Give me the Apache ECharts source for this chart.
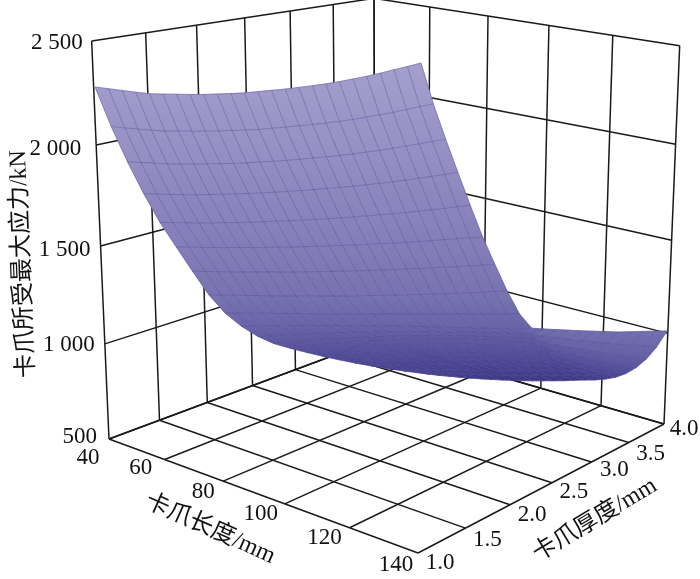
<!DOCTYPE html>
<html><head><meta charset="utf-8"><style>html,body{margin:0;background:#fff}#c{width:700px;height:579px}</style>
<script src="https://cdn.jsdelivr.net/npm/echarts@6/dist/echarts.min.js"></script></head>
<body><div id="c"></div><script>
const lengthTicks=[40,60,80,100,120,140];
const thicknessTicks=[1.0,1.5,2.0,2.5,3.0,3.5,4.0];
const stressTicks=[500,1000,1500,2000,2500];
const stressLabels=['500','1 000','1 500','2 000','2 500'];
const lengths=[40,45,50,55,60,65,70,75,80,85,90,95,100,105,110,115,120,125,130,135,140];
const thicknesses=[1,1.125,1.25,1.375,1.5,1.625,1.75,1.875,2,2.125,2.25,2.375,2.5,2.625,2.75,2.875,3,3.125,3.25,3.375,3.5,3.625,3.75,3.875,4];
const stress=[
[2280,2263,2246,2229,2213,2203,2194,2184,2176,2170,2164,2159,2157,2155,2153,2153,2153,2154,2157,2162,2167,2174,2183,2191,2200],
[2087,2072,2058,2044,2031,2023,2014,2006,1999,1993,1987,1982,1980,1977,1975,1974,1973,1973,1974,1977,1981,1985,1991,1997,2003],
[1915,1904,1892,1881,1871,1863,1856,1849,1842,1837,1832,1828,1825,1822,1820,1818,1817,1816,1817,1818,1820,1823,1826,1830,1834],
[1760,1750,1740,1731,1722,1716,1709,1703,1697,1692,1687,1683,1680,1676,1674,1671,1669,1668,1667,1667,1667,1669,1670,1672,1674],
[1621,1612,1603,1595,1587,1580,1573,1567,1561,1556,1550,1545,1541,1537,1533,1530,1527,1524,1522,1520,1519,1518,1517,1517,1517],
[1503,1494,1485,1477,1468,1461,1453,1446,1439,1432,1426,1420,1414,1409,1403,1398,1394,1389,1385,1381,1378,1375,1372,1369,1366],
[1386,1377,1368,1360,1351,1344,1336,1328,1321,1314,1307,1301,1294,1288,1282,1277,1271,1266,1261,1256,1252,1247,1243,1239,1236],
[1273,1264,1255,1246,1238,1229,1221,1213,1205,1198,1190,1183,1176,1170,1163,1157,1151,1145,1139,1134,1128,1123,1119,1114,1109],
[1186,1178,1170,1162,1154,1146,1138,1130,1122,1115,1107,1099,1091,1084,1076,1069,1061,1053,1046,1039,1031,1024,1016,1009,1002],
[1125,1118,1112,1105,1098,1091,1083,1076,1068,1061,1053,1045,1037,1029,1020,1012,1003,994,985,976,967,958,948,938,937],
[1079,1075,1071,1067,1062,1057,1052,1046,1041,1034,1028,1022,1015,1008,1000,992,984,976,968,959,950,940,931,921,940],
[1047,1045,1043,1041,1038,1035,1031,1027,1022,1017,1012,1006,1000,993,986,978,970,962,953,944,934,924,913,918,944],
[1028,1028,1028,1027,1025,1023,1020,1017,1013,1008,1003,997,991,984,976,968,959,950,940,929,918,906,900,917,948],
[1012,1011,1010,1009,1007,1004,1001,997,993,988,982,976,970,963,955,947,938,929,919,909,898,887,894,916,952],
[997,996,994,992,989,986,982,978,973,968,962,956,949,942,935,926,918,909,899,889,878,876,890,916,957],
[984,982,980,976,973,969,965,960,955,949,943,937,930,922,915,906,898,889,879,870,863,868,885,917,962],
[972,969,965,961,957,952,947,942,936,930,924,917,910,903,895,887,878,869,860,852,851,860,882,917,967],
[962,957,952,946,940,934,928,922,916,909,902,895,888,881,873,866,858,850,842,837,840,853,879,919,975],
[953,946,938,931,924,916,909,902,895,888,881,874,867,860,853,846,839,832,826,824,831,847,877,922,984],
[946,937,927,918,909,900,891,883,875,867,860,853,846,839,833,827,821,815,811,812,821,841,875,924,992],
[940,927,915,904,893,883,873,864,855,847,839,832,826,820,814,810,805,799,797,800,812,836,873,927,1000]
];
// camera of the surface: where the corners of its base plane land, and the height scale
const S={c00:[95,383],c01:[421,343],c10:[420,401],c11:[667,371],k:.2,z0:800};
function sb(x,t){const u=(x-40)/100,v=(t-1)/3;const f=i=>S.c00[i]*(1-u)*(1-v)+S.c01[i]*(1-u)*v+S.c10[i]*u*(1-v)+S.c11[i]*u*v;return [f(0),f(1)];}
function surf(i,j){const b=sb(lengths[i],thicknesses[j]);return [b[0],b[1]-S.k*(stress[i][j]-S.z0)];}
function pl(p,x){if(x<=p[0][0])return p[0][1];for(let i=1;i<p.length;i++){if(x<=p[i][0]){const a=p[i-1],b=p[i];return a[1]+(b[1]-a[1])*(x-a[0])/(b[0]-a[0]);}}return p[p.length-1][1];}
// camera of the box
const CAL={A:[109,439],B:[418,553],C:[664,424],D:[375,340],At:[94,44],Ct:[682,40],Dt:[370,1]};
function buildP(){const [x0,y0]=CAL.A,[x1,y1]=CAL.B,[x2,y2]=CAL.C,[x3,y3]=CAL.D;
 const dx1=x1-x2,dx2=x3-x2,sx=x0-x1+x2-x3,dy1=y1-y2,dy2=y3-y2,sy=y0-y1+y2-y3;
 const d=dx1*dy2-dx2*dy1,g=(sx*dy2-dx2*sy)/d,h=(dx1*sy-sx*dy1)/d;
 const a=x1-x0+g*x1,b=x3-x0+h*x3,c=x0,dd=y1-y0+g*y1,e=y3-y0+h*y3,f=y0;
 const fl=(u,v)=>{const W=g*u+h*v+1;return [(a*u+b*v+c)/W,(dd*u+e*v+f)/W,W];};
 const rows=[];[[0,0,CAL.At],[1,1,CAL.Ct],[0,1,CAL.Dt]].forEach(([u,v,pt])=>{const b0=fl(u,v);rows.push([1,0,-pt[0],b0[2]*(pt[0]-b0[0])]);rows.push([0,1,-pt[1],b0[2]*(pt[1]-b0[1])]);});
 const N=[[0,0,0,0],[0,0,0,0],[0,0,0,0]];rows.forEach(r=>{for(let i=0;i<3;i++){for(let j=0;j<3;j++)N[i][j]+=r[i]*r[j];N[i][3]+=r[i]*r[3];}});
 for(let i=0;i<3;i++){let m=i;for(let k=i+1;k<3;k++)if(Math.abs(N[k][i])>Math.abs(N[m][i]))m=k;[N[i],N[m]]=[N[m],N[i]];for(let k=0;k<3;k++)if(k!==i){const r=N[k][i]/N[i][i];for(let l=i;l<4;l++)N[k][l]-=r*N[i][l];}}
 const q=[N[0][3]/N[0][0],N[1][3]/N[1][1],N[2][3]/N[2][2]];
 return (x,t,z)=>{const u=(x-40)/100,v=(t-1)/3,w=(z-500)/2000,b=fl(u,v),W=b[2]+q[2]*w;return [(b[0]*b[2]+q[0]*w)/W,(b[1]*b[2]+q[1]*w)/W];};
}
const project=buildP();
const X0=40,X1=140,T0=1,T1=4,Z0=500,Z1=2500;
const segs=[];
lengthTicks.forEach(x=>{segs.push([x,T0,Z0,x,T1,Z0]);segs.push([x,T1,Z0,x,T1,Z1]);});
thicknessTicks.forEach(t=>{segs.push([X0,t,Z0,X1,t,Z0]);segs.push([X0,t,Z0,X0,t,Z1]);});
stressTicks.forEach(z=>{segs.push([X0,T0,z,X0,T1,z]);segs.push([X0,T1,z,X1,T1,z]);});
const FONT='"Liberation Serif","Noto Sans CJK SC",serif';
const xOff=[[-21,19],[-24,8],[-20,11],[-24,10],[-25,10],[-22,12]];
const tOff=[[22,10],[22,12],[22,10],[22,9],[23,8],[22,11],[20,5]];
const zOff=[[-12,-2],[-10,1],[-10,4],[-15,4],[-9,2]];
const labels=[];
lengthTicks.forEach((x,i)=>labels.push({text:String(x),p:[x,T0,Z0],o:xOff[i],al:'center'}));
thicknessTicks.forEach((t,i)=>labels.push({text:t.toFixed(1),p:[X1,t,Z0],o:tOff[i],al:'center'}));
stressTicks.forEach((z,i)=>labels.push({text:stressLabels[i],p:[X0,T0,z],o:zOff[i],al:'right'}));
const titles=[{text:'卡爪长度/mm',x:210,y:529,r:-24},{text:'卡爪厚度/mm',x:595,y:520,r:31},{text:'卡爪所受最大应力/kN',x:23,y:264,r:92.2}];
const cstops=[[60,[165,160,205]],[150,[150,144,196]],[220,[137,130,187]],[290,[122,117,178]],[330,[104,99,167]],[355,[82,77,152]],[382,[58,54,132]]];
function colorAt(y){const c=[0,1,2].map(k=>pl(cstops.map(s=>[s[0],s[1][k]]),y));return 'rgb('+c.map(Math.round).join(',')+')';}
function foldLift(u,v){if(u<=.431)return 0;const g=(u-.431)/.569,vc=1-.34*g;return v>vc?30*(v-vc)/(1-vc):0;}
const cells=[];for(let i=0;i<lengths.length-1;i++)for(let j=0;j<thicknesses.length-1;j++)cells.push([i,j]);
const lines=[];lengths.forEach((_,i)=>lines.push(thicknesses.map((_,j)=>[i,j])));thicknesses.forEach((_,j)=>lines.push(lengths.map((_,i)=>[i,j])));
const chart=echarts.init(document.getElementById('c'),null,{renderer:'canvas'});
chart.setOption({animation:false,backgroundColor:'#fff',
 grid:{left:0,right:0,top:0,bottom:0},
 xAxis:{type:'value',min:0,max:700,show:false},yAxis:{type:'value',min:0,max:579,inverse:true,show:false},
 series:[
 {type:'custom',silent:true,clip:false,z:1,data:segs.map((_,i)=>[i,0]),renderItem:(p,api)=>{const s=segs[p.dataIndex],a=api.coord(project(s[0],s[1],s[2])),b=api.coord(project(s[3],s[4],s[5]));return {type:'line',shape:{x1:a[0],y1:a[1],x2:b[0],y2:b[1]},style:{stroke:'#1a1a1a',lineWidth:1.5}};}},
 {type:'custom',silent:true,clip:false,z:2,data:cells,renderItem:(p,api)=>{const [i,j]=cells[p.dataIndex];const q=[surf(i,j),surf(i,j+1),surf(i+1,j+1),surf(i+1,j)].map(c=>api.coord(c));
   const ys=q.map(c=>c[1]),y0=Math.min(...ys),y1=Math.max(...ys)+.01,lift=foldLift((i+.5)/20,(j+.5)/24);
   const g={type:'linear',global:true,x:0,y:y0,x2:0,y2:y1,colorStops:[{offset:0,color:colorAt(y0-lift)},{offset:1,color:colorAt(y1-lift)}]};
   return {type:'polygon',shape:{points:q},style:{fill:g,stroke:g,lineWidth:.6}};}},
 {type:'custom',silent:true,clip:false,z:3,data:lines.map((_,i)=>[i,0]),renderItem:(p,api)=>({type:'polyline',shape:{points:lines[p.dataIndex].map(c=>api.coord(surf(c[0],c[1])))},style:{fill:null,stroke:'rgba(82,74,150,0.55)',lineWidth:.8}})},
 {type:'custom',silent:true,clip:false,z:4,data:labels.map((_,i)=>[i,0]),renderItem:(p,api)=>{const l=labels[p.dataIndex],a=api.coord(project(l.p[0],l.p[1],l.p[2]));return {type:'text',x:a[0]+l.o[0],y:a[1]+l.o[1],style:{text:l.text,font:'23px '+FONT,fill:'#111',align:l.al,verticalAlign:'middle',textAlign:l.al,textVerticalAlign:'middle'}};}},
 {type:'custom',silent:true,clip:false,z:4,data:titles.map((_,i)=>[i,0]),renderItem:(p,api)=>{const l=titles[p.dataIndex],a=api.coord([l.x,l.y]);return {type:'text',x:a[0],y:a[1],rotation:l.r*Math.PI/180,style:{text:l.text,font:'24px '+FONT,fill:'#111',align:'center',verticalAlign:'middle',textAlign:'center',textVerticalAlign:'middle'}};}}
 ]});
</script></body></html>
